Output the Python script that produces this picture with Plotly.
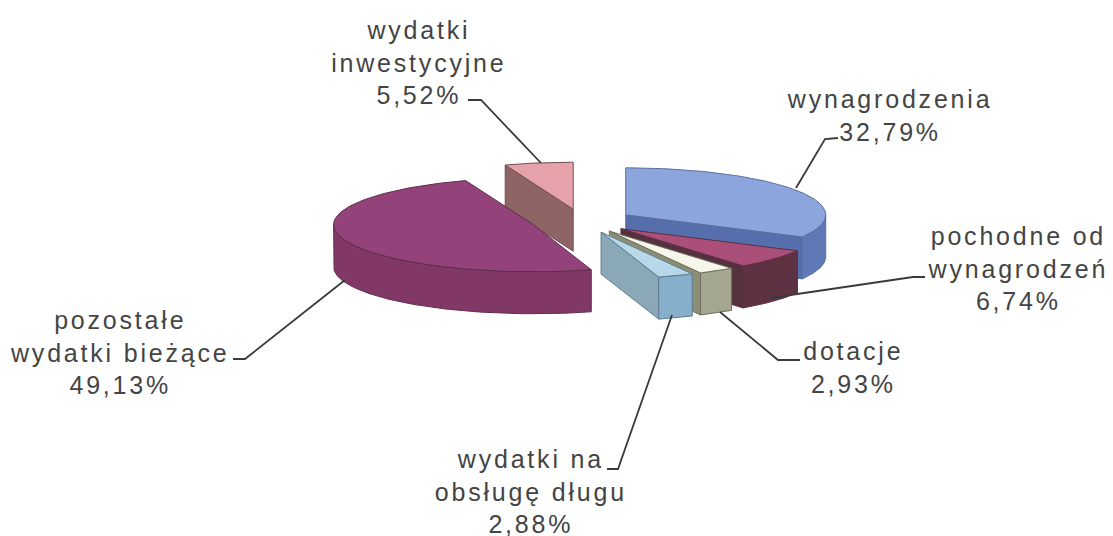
import numpy as np
import plotly.graph_objects as go

categories = ["wynagrodzenia", "pochodne od wynagrodzeń", "dotacje",
              "wydatki na obsługę długu", "pozostałe wydatki bieżące",
              "wydatki inwestycyjne"]
values = [32.79, 6.74, 2.93, 2.88, 49.13, 5.52]
value_labels = ["32,79%", "6,74%", "2,93%", "2,88%", "49,13%", "5,52%"]

top_colors = ["#8CA5DC", "#A94F7A", "#F6F6EA", "#B7D8E9", "#93437A", "#E6A2AB"]
rim_colors = ["#5F79B6", "#5F3243", "#A5A690", "#86AFCB", "#823866", "#8F6464"]
wall_colors = ["#566FAC", "#55303E", "#8C8E76", "#8AA8B6", "#823866", "#8F6464"]
edge_colors = ["#5A6E9E", "#5A3040", "#6E6E5E", "#5E7C8C", "#5E2E50", "#6E4E50"]

# projection of the exploded 3-D pie, in page pixels
CX, CY, RX, RY, DEPTH, EXPLODE = 582, 221, 200, 47, 42, 0.255

label_layout = [
    (["wynagrodzenia", "32,79%"], 889, 115),
    (["pochodne od", "wynagrodzeń", "6,74%"], 1018, 268),
    (["dotacje", "2,93%"], 853, 367),
    (["wydatki na", "obsługę długu", "2,88%"], 531, 491),
    (["pozostałe", "wydatki bieżące", "49,13%"], 119, 352),
    (["wydatki", "inwestycyjne", "5,52%"], 419, 62),
]
leaders = [
    ([796, 825, 838], [188, 139, 138]),
    ([770, 913, 925], [298, 277, 277]),
    ([720, 778, 800], [312, 360, 360]),
    ([672, 618, 607], [315, 469, 469]),
    ([345, 245, 233], [280, 359, 359]),
    ([541, 481, 468], [163, 100, 100]),
]

fig = go.Figure()


def rim(theta, ox, oy):
    return ox + RX * np.sin(theta), oy - RY * np.cos(theta)


def add_poly(xs, ys, fill, edge):
    fig.add_trace(go.Scatter(x=list(xs), y=list(ys), mode="lines", fill="toself",
                             fillcolor=fill, line=dict(color=edge, width=1),
                             hoverinfo="skip", showlegend=False))


total = sum(values)
edges = np.radians(np.cumsum([0] + values) / total * 360)
for i in [5, 4, 0, 1, 2, 3]:
    t0, t1 = edges[i], edges[i + 1]
    mid = (t0 + t1) / 2
    ox = CX + EXPLODE * RX * np.sin(mid)
    oy = CY - EXPLODE * RY * np.cos(mid)
    # radial walls that face the viewer
    for t, sign in ((t0, -1), (t1, 1)):
        if sign * np.sin(t) > 1e-6:
            rx, ry = rim(t, ox, oy)
            add_poly([ox, rx, rx, ox, ox], [oy, ry, ry + DEPTH, oy + DEPTH, oy],
                     wall_colors[i], edge_colors[i])
    # curved outer wall
    a, b = max(t0, np.pi / 2), min(t1, 3 * np.pi / 2)
    if b > a:
        th = np.linspace(a, b, 80)
        xs, ys = rim(th, ox, oy)
        add_poly(np.r_[xs, xs[::-1], xs[0]], np.r_[ys, ys[::-1] + DEPTH, ys[0]],
                 rim_colors[i], edge_colors[i])
    # top face
    th = np.linspace(t0, t1, 120)
    xs, ys = rim(th, ox, oy)
    add_poly(np.r_[ox, xs, ox], np.r_[oy, ys, oy], top_colors[i], edge_colors[i])

for lx, ly in leaders:
    fig.add_trace(go.Scatter(x=lx, y=ly, mode="lines", line=dict(color="#3A3A3A", width=1.8),
                             hoverinfo="skip", showlegend=False))

annotations = [dict(x=x, y=y, xref="x", yref="y", text="<br>".join(lines), showarrow=False,
                    xanchor="center", yanchor="middle", align="center",
                    font=dict(family="Liberation Sans", size=25, color="#444444"))
               for lines, x, y in label_layout]

fig.update_layout(
    width=1113, height=536, margin=dict(l=0, r=0, t=0, b=0),
    paper_bgcolor="white", plot_bgcolor="white", annotations=annotations,
    xaxis=dict(range=[0, 1113], visible=False, fixedrange=True),
    yaxis=dict(range=[536, 0], visible=False, fixedrange=True),
)
# page margin off, and the wide tracking of the reference's labels
post = """
document.body.style.margin='0';
document.documentElement.style.overflow='hidden';
document.querySelectorAll('.annotation-text').forEach(function(t){t.style.letterSpacing='2.8px';});
"""
fig.write_html("out.html", config={"displayModeBar": False}, post_script=post)
